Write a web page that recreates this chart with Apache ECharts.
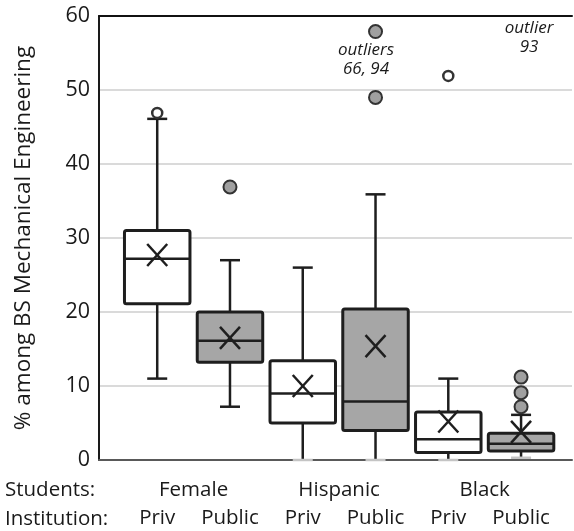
<!DOCTYPE html>
<html><head><meta charset="utf-8">
<script src="https://cdn.jsdelivr.net/npm/echarts@6/dist/echarts.min.js"></script>
<style>html,body{margin:0;padding:0;background:#fff}#c{width:574px;height:531px}</style>
</head><body><div id="c"></div>
<script>
// ---- data ----
const groups = ['Female', 'Hispanic', 'Black'];
const institutions = ['Priv', 'Public', 'Priv', 'Public', 'Priv', 'Public'];
const whiskerLow  = [11.0, 7.2, 0.0, 0.0, 0.0, 0.3];
const q1          = [21.1, 13.2, 5.0, 4.0, 1.0, 1.2];
const median      = [27.2, 16.1, 9.0, 7.9, 2.8, 2.2];
const q3          = [31.0, 20.0, 13.4, 20.4, 6.5, 3.6];
const whiskerHigh = [46.1, 27.0, 26.0, 35.9, 11.0, 6.1];
const mean        = [27.7, 16.5, 10.0, 15.4, 5.2, 3.8];
const outliersHollow = [[0, 46.9], [4, 51.9]];
const outliersFilled = [[1, 36.9], [3, 49.0], [3, 57.9], [5, 7.2], [5, 9.1], [5, 11.2]];
const yTicks = [0, 10, 20, 30, 40, 50, 60];
const annotations = [['outliers', '66, 94'], ['outlier', '93']];

// ---- chart ----
const FONT = '"Open Sans"';
const STROKE = '#1e1e1e';
const TEXT = '#1a1a1a';
const boxData = institutions.map((inst, i) => [i, whiskerLow[i], q1[i], median[i], q3[i], whiskerHigh[i], mean[i]]);

function renderItem(params, api) {
  const x = api.value(0);
  const lo = api.coord([x, api.value(1)]);
  const b1 = api.coord([x, api.value(2)]);
  const md = api.coord([x, api.value(3)]);
  const b3 = api.coord([x, api.value(4)]);
  const hi = api.coord([x, api.value(5)]);
  const mn = api.coord([x, api.value(6)]);
  const w = api.size([0.9, 0])[0];
  const cx = lo[0];
  const cap = 10, xs = 10, ys = 11;
  const fill = institutions[x] === 'Public' ? '#a6a6a6' : '#ffffff';
  const lowCapColor = api.value(1) <= 0.5 ? '#c4c4c4' : STROKE;
  const ls = { stroke: STROKE, lineWidth: 2.5 };
  return {
    type: 'group',
    children: [
      { type: 'line', shape: { x1: cx, y1: hi[1], x2: cx, y2: b3[1] }, style: ls },
      { type: 'line', shape: { x1: cx, y1: b1[1], x2: cx, y2: lo[1] }, style: ls },
      { type: 'line', shape: { x1: cx - cap, y1: hi[1], x2: cx + cap, y2: hi[1] }, style: ls },
      { type: 'line', shape: { x1: cx - cap, y1: lo[1], x2: cx + cap, y2: lo[1] }, style: { stroke: lowCapColor, lineWidth: 2.5 } },
      { type: 'rect', shape: { x: cx - w / 2, y: b3[1], width: w, height: b1[1] - b3[1], r: 2 }, style: { fill: fill, stroke: STROKE, lineWidth: 3 } },
      { type: 'line', shape: { x1: cx - w / 2, y1: md[1], x2: cx + w / 2, y2: md[1] }, style: { stroke: STROKE, lineWidth: 2.5 } },
      { type: 'line', shape: { x1: cx - xs, y1: mn[1] - ys, x2: cx + xs, y2: mn[1] + ys }, style: ls },
      { type: 'line', shape: { x1: cx - xs, y1: mn[1] + ys, x2: cx + xs, y2: mn[1] - ys }, style: ls }
    ]
  };
}

const chart = echarts.init(document.getElementById('c'), null, { renderer: 'canvas' });
const xBase = { type: 'value', min: -0.8, max: 5.7, splitLine: { show: false }, axisTick: { show: false } };
chart.setOption({
  animation: false,
  backgroundColor: '#ffffff',
  textStyle: { fontFamily: FONT },
  grid: { left: 99, right: 2, top: 16, bottom: 71, containLabel: false },
  xAxis: [
    Object.assign({}, xBase, {
      position: 'bottom',
      axisLine: { show: true, onZero: false, lineStyle: { color: '#595959', width: 2 } },
      axisLabel: { customValues: [0, 1, 2, 3, 4, 5], formatter: v => institutions[Math.round(v)], margin: 48, fontSize: 20.5, color: TEXT, fontFamily: FONT }
    }),
    Object.assign({}, xBase, {
      position: 'bottom',
      axisLine: { show: false },
      axisLabel: { customValues: [0.5, 2.5, 4.5], formatter: v => groups[Math.round((v - 0.5) / 2)], margin: 20, fontSize: 20.5, color: TEXT, fontFamily: FONT }
    }),
    Object.assign({}, xBase, {
      position: 'top',
      axisLine: { show: true, onZero: false, lineStyle: { color: '#111', width: 2 } },
      axisLabel: { show: false }
    })
  ],
  yAxis: {
    type: 'value', min: 0, max: 60, interval: 10,
    axisLine: { show: true, onZero: false, lineStyle: { color: '#1a1a1a', width: 2 } },
    axisTick: { show: false },
    axisLabel: { customValues: yTicks, fontSize: 21.5, color: TEXT, margin: 9, fontFamily: FONT },
    splitLine: { show: true, lineStyle: { color: '#dadada', width: 2 } },
    name: '% among BS Mechanical Engineering', nameLocation: 'middle', nameGap: 64,
    nameTextStyle: { fontSize: 22.5, color: TEXT, fontFamily: FONT }
  },
  graphic: [
    { type: 'text', left: 5, top: 480, style: { text: 'Students:', font: '20.5px ' + FONT, fill: TEXT } },
    { type: 'text', left: 5, top: 509, style: { text: 'Institution:', font: '20.5px ' + FONT, fill: TEXT } },
    { type: 'text', x: 366, y: 41, style: { text: annotations[0].join('\n'), font: 'italic 17px ' + FONT, fill: TEXT, align: 'center', verticalAlign: 'top', lineHeight: 19 } },
    { type: 'text', x: 529, y: 19, style: { text: annotations[1].join('\n'), font: 'italic 17px ' + FONT, fill: TEXT, align: 'center', verticalAlign: 'top', lineHeight: 19 } }
  ],
  series: [
    { type: 'custom', xAxisIndex: 0, renderItem: renderItem, data: boxData, z: 2 },
    { type: 'scatter', xAxisIndex: 0, data: outliersFilled, symbol: 'circle', symbolSize: 13,
      itemStyle: { color: '#a0a0a0', borderColor: '#333', borderWidth: 2, opacity: 1 }, z: 3 },
    { type: 'scatter', xAxisIndex: 0, data: outliersHollow, symbol: 'circle', symbolSize: 10,
      itemStyle: { color: '#ffffff', borderColor: '#333', borderWidth: 2.5, opacity: 1 }, z: 3 }
  ]
});
</script></body></html>
